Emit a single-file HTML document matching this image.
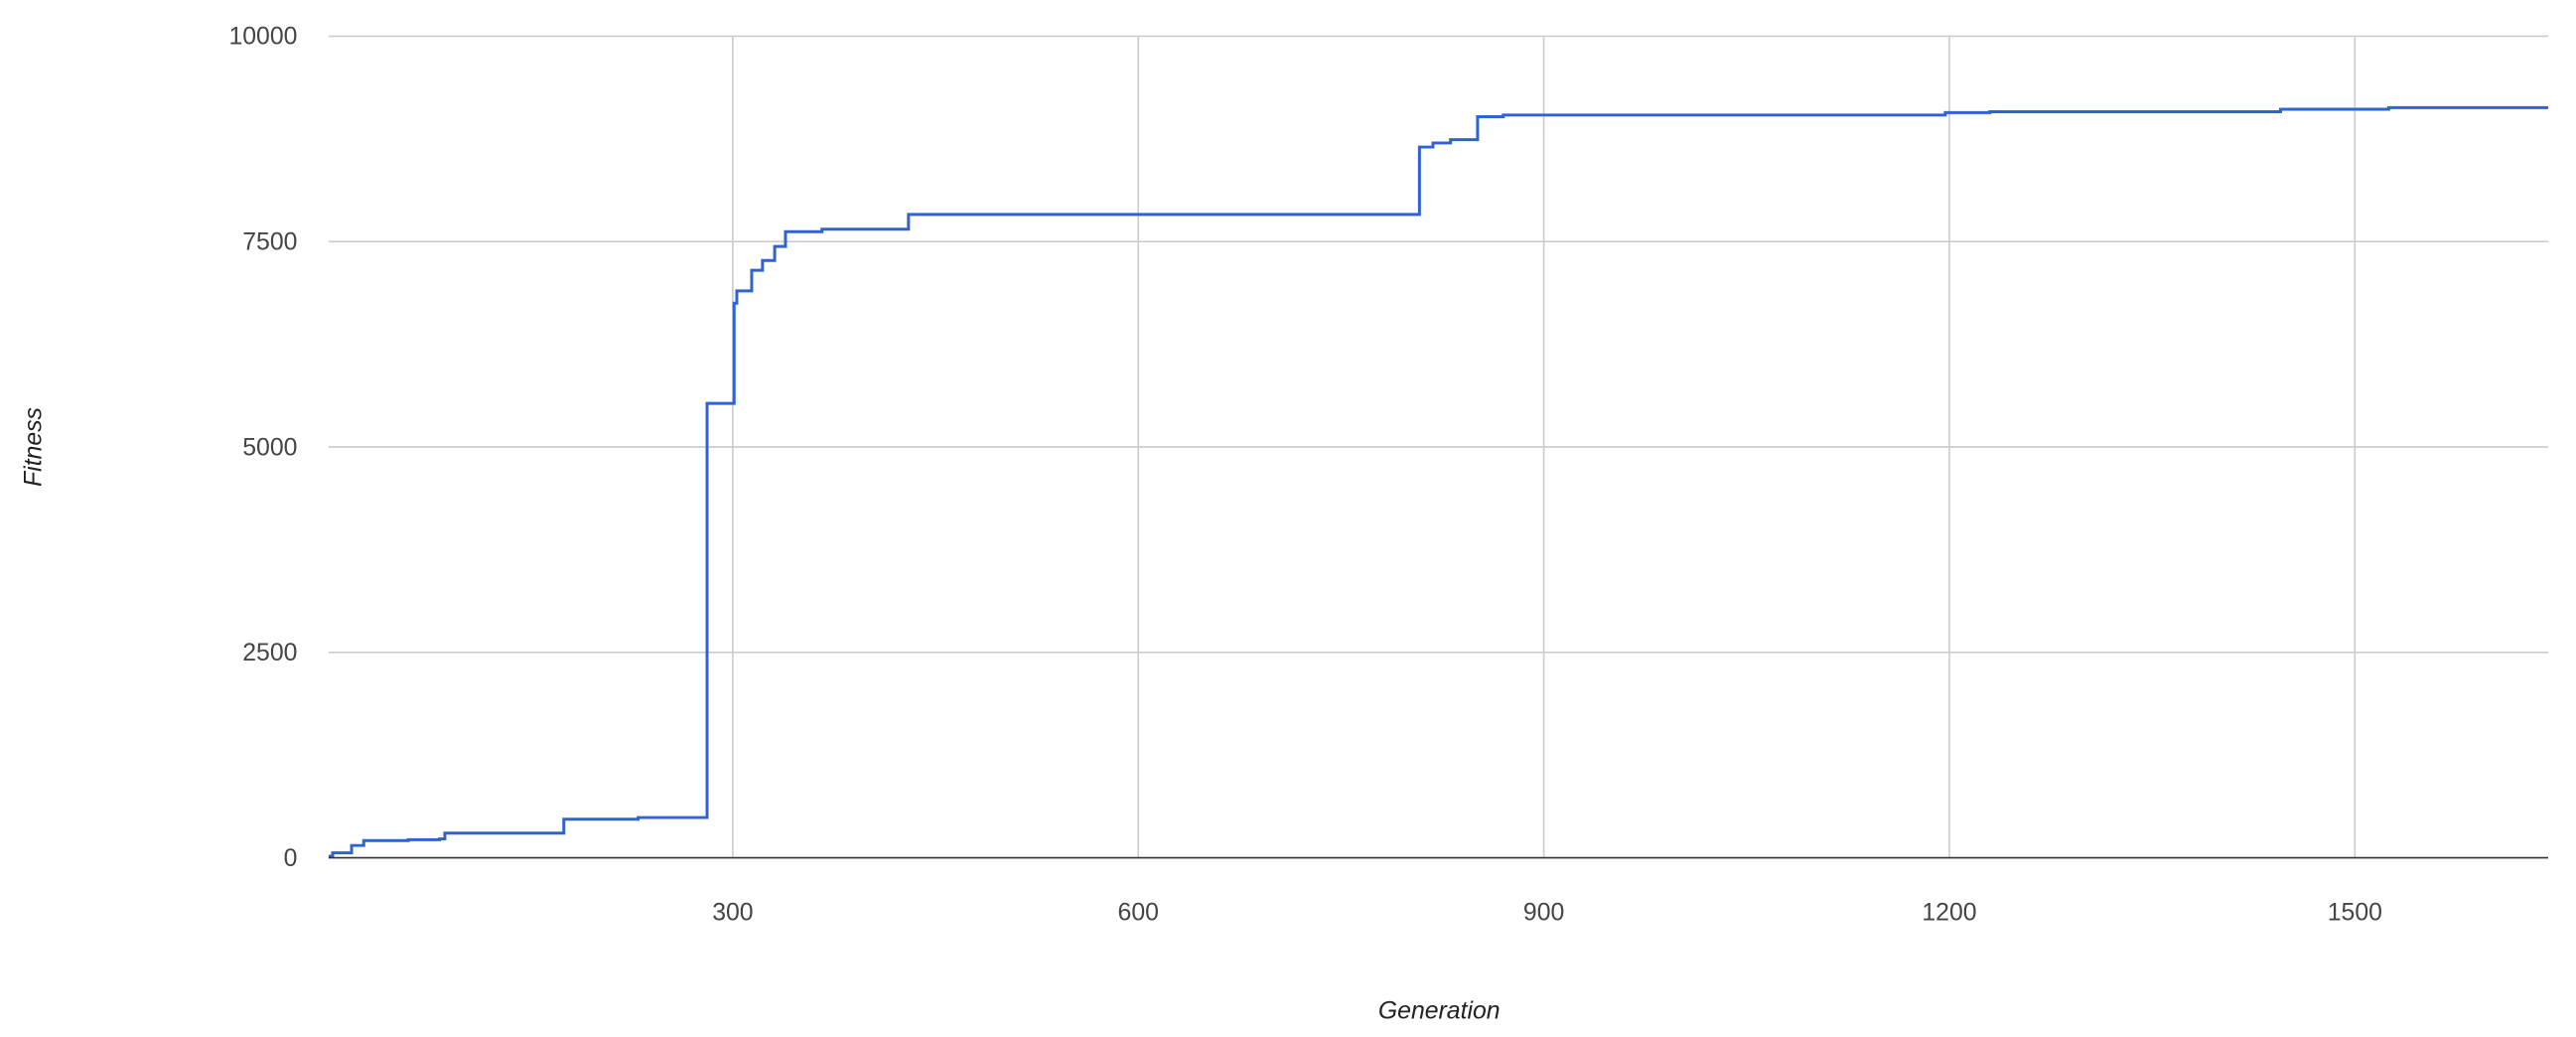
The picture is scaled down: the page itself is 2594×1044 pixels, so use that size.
<!DOCTYPE html>
<html><head><meta charset="utf-8"><style>
html,body{margin:0;padding:0;background:#fff;overflow:hidden}
#wrap{width:1568px;height:631px;transform:scale(1.6544);transform-origin:0 0}
text{font-family:"Liberation Sans",sans-serif}
</style></head><body>
<div id="wrap">
<svg id="chart" width="1568" height="631">
<g id="grid"></g>
<g id="ticks"></g>
<path id="line" fill="none" stroke="#2f62d2" stroke-width="1.8"/>
<line x1="200" y1="522" x2="1551" y2="522" stroke="#333" stroke-width="1"/>
<text x="876" y="620" text-anchor="middle" font-size="15" font-style="italic" fill="#222">Generation</text>
<text transform="translate(25,272) rotate(-90)" text-anchor="middle" font-size="15" font-style="italic" fill="#222">Fitness</text>
</svg></div>
<script>
const xTicks=[300,600,900,1200,1500];
const yTicks=[0,2500,5000,7500,10000];
const gens=[1,4,18,27,60,83,87,175,230,281,301,303,314,322,331,339,366,430,808,818,831,851,870,1197,1230,1445,1525,1643];
const fitness=[20,60,150,210,220,230,300,470,490,5530,6750,6900,7150,7270,7440,7620,7650,7830,8650,8700,8740,9020,9040,9070,9080,9110,9130,9130];
const X0=1,X1=1643,PL=200,PR=1551,PT=22,PB=522,Y1=10000;
const sx=v=>PL+(v-X0)/(X1-X0)*(PR-PL);
const sy=v=>PB-v/Y1*(PB-PT);
const NS='http://www.w3.org/2000/svg';
const grid=document.getElementById('grid'),ticks=document.getElementById('ticks');
yTicks.forEach(t=>{
 if(t>0){const l=document.createElementNS(NS,'line');
 l.setAttribute('x1',PL);l.setAttribute('x2',PR);l.setAttribute('y1',sy(t));l.setAttribute('y2',sy(t));
 l.setAttribute('stroke','#ccc');
 
 
 grid.appendChild(l);}
 const tx=document.createElementNS(NS,'text');
 tx.setAttribute('x',181);tx.setAttribute('y',sy(t)+5);tx.setAttribute('text-anchor','end');
 tx.setAttribute('font-size','15');tx.setAttribute('fill','#444');tx.textContent=t;
 
 
 ticks.appendChild(tx);
});
xTicks.forEach(t=>{
 const l=document.createElementNS(NS,'line');
 l.setAttribute('x1',sx(t));l.setAttribute('x2',sx(t));l.setAttribute('y1',PT);l.setAttribute('y2',PB);
 l.setAttribute('stroke','#ccc');
 
 
 grid.appendChild(l);
 const tx=document.createElementNS(NS,'text');
 tx.setAttribute('x',sx(t));tx.setAttribute('y',560);tx.setAttribute('text-anchor','middle');
 tx.setAttribute('font-size','15');tx.setAttribute('fill','#444');tx.textContent=t;
 
 
 ticks.appendChild(tx);
});
let d='';
gens.forEach((g,i)=>{
 if(i===0)d+='M'+sx(g)+','+sy(fitness[i]);
 else d+='L'+sx(g)+','+sy(fitness[i-1])+'L'+sx(g)+','+sy(fitness[i]);
});
document.getElementById('line').setAttribute('d',d);
</script>
</body></html>
